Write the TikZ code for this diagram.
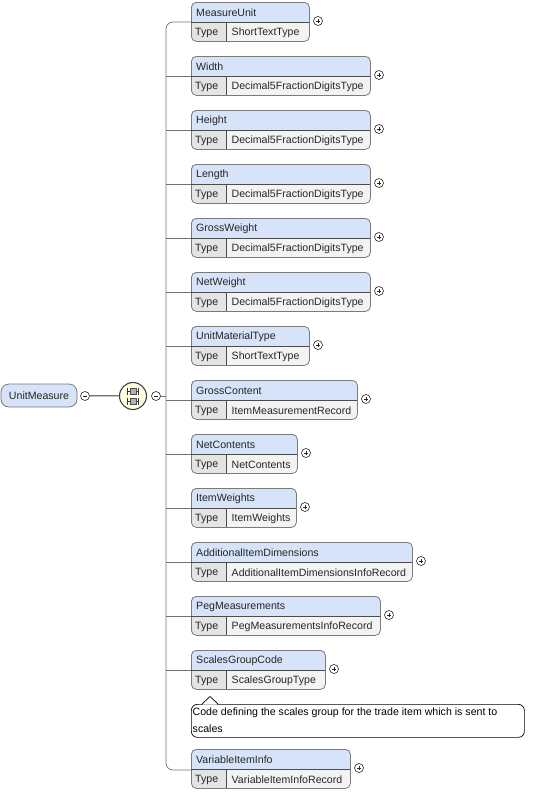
\documentclass[tikz,border=0pt]{standalone}
\usepackage{fontspec}
\setmainfont{Liberation Sans}
\definecolor{namebg}{HTML}{D6E3F8}
\definecolor{typecell}{HTML}{E4E4E4}
\definecolor{valcell}{HTML}{F3F3F3}
\definecolor{border}{HTML}{7A7A7A}
\definecolor{iconbg}{HTML}{FFFFE1}
\tikzset{
  txt/.style={font=\fontsize{10.6}{12}\selectfont, inner sep=0pt, anchor=west, text=black!85},
  boxline/.style={draw=border, line width=0.8pt},
  conn/.style={draw=black!55, line width=0.7pt},
  pm/.style={circle, draw=black!85, line width=0.6pt, fill=white, minimum size=9pt, inner sep=0pt},
}
\newcommand{\elembox}[5]{% id, top, right, name, type
  \begin{scope}
    \clip[rounded corners=5pt] (191,#2) rectangle (#3,#2+39);
    \fill[valcell] (191,#2) rectangle (#3,#2+39);
    \fill[namebg] (191,#2) rectangle (#3,#2+20);
    \fill[typecell] (191,#2+20) rectangle (226,#2+39);
  \end{scope}
  \node[inner sep=0pt, minimum width=#3 pt-191pt, minimum height=39pt, anchor=north west, rounded corners=5pt, boxline] (#1) at (191,#2) {};
  \draw[black!70, line width=0.6pt] (191,#2+20) -- (#3,#2+20);
  \draw[black!70, line width=0.6pt] (226,#2+20) -- (226,#2+39);
  \node[txt] (#1-n) at (196,#2+11) {#4};
  \node[txt] (#1-t) at (195,#2+30.5) {Type};
  \node[txt] (#1-v) at (231.5,#2+30.5) {#5};
  \node[pm] (#1-p) at (#3+9,#2+19) {};
  \draw[black!85, line width=0.6pt] ([xshift=-2.2pt]#1-p.center) -- ([xshift=2.2pt]#1-p.center);
  \draw[black!85, line width=0.6pt] ([yshift=-2.2pt]#1-p.center) -- ([yshift=2.2pt]#1-p.center);
}
\begin{document}
\begin{tikzpicture}[x=1pt, y=-1pt]
\useasboundingbox (0,0) rectangle (547,795);
% root
\node[draw=border, line width=0.8pt, fill=namebg, rounded corners=8pt, minimum width=76pt, minimum height=23pt, inner sep=0pt, font=\fontsize{10.6}{12}\selectfont, text=black!85] (root) at (39,395.5) {UnitMeasure};
\node[pm] (rm) at (85,396) {};
\draw[black!85, line width=0.6pt] ([xshift=-2.2pt]rm.center) -- ([xshift=2.2pt]rm.center);
% sequence icon
\node[circle, draw=black!75, line width=1.1pt, fill=iconbg, minimum size=27pt, inner sep=0pt] (seq) at (133,396) {};
\draw[black!55, line width=2.6pt] (rm.east) -- (seq.west);
\draw[gray!45, line width=0.9pt] (rm.east) -- (seq.west);
\begin{scope}[black!80, line width=0.7pt]
  \draw (127.5,387.5) -- (127.5,394.5) (138.5,387.5) -- (138.5,394.5);
  \draw (127.5,397.5) -- (127.5,404.5) (138.5,397.5) -- (138.5,404.5);
  \draw (127.5,391) -- (138.5,391) (127.5,401) -- (138.5,401);
  \filldraw[fill=gray!60, draw=black!70, line width=0.5pt] (130,388) rectangle (136,394);
  \filldraw[fill=gray!60, draw=black!70, line width=0.5pt] (130,398) rectangle (136,404);
\end{scope}
\node[pm] (sm) at (156,396) {};
\draw[black!85, line width=0.6pt] ([xshift=-2.2pt]sm.center) -- ([xshift=2.2pt]sm.center);
% elements
\elembox{e1}{2}{309}{MeasureUnit}{ShortTextType}
\elembox{e2}{56}{370}{Width}{Decimal5FractionDigitsType}
\elembox{e3}{110}{370}{Height}{Decimal5FractionDigitsType}
\elembox{e4}{164}{370}{Length}{Decimal5FractionDigitsType}
\elembox{e5}{218}{370}{GrossWeight}{Decimal5FractionDigitsType}
\elembox{e6}{272}{370}{NetWeight}{Decimal5FractionDigitsType}
\elembox{e7}{326}{309}{UnitMaterialType}{ShortTextType}
\elembox{e8}{380}{357}{GrossContent}{ItemMeasurementRecord}
\elembox{e9}{434}{297}{NetContents}{NetContents}
\elembox{e10}{488}{296}{ItemWeights}{ItemWeights}
\elembox{e11}{542}{412}{AdditionalItemDimensions}{AdditionalItemDimensionsInfoRecord}
\elembox{e12}{596}{380}{PegMeasurements}{PegMeasurementsInfoRecord}
\elembox{e13}{650}{325}{ScalesGroupCode}{ScalesGroupType}
\elembox{e14}{749}{350}{VariableItemInfo}{VariableItemInfoRecord}
% trunk
\coordinate (tr) at (166,396);
\draw[conn] (sm.east) -- (tr);
\draw[conn, rounded corners=7pt] (e1.west |- 0,22) -- (166,22) -- (166,770) -- (e14.west |- 0,770);
\foreach \i/\t in {e2/56,e3/110,e4/164,e5/218,e6/272,e7/326,e8/380,e9/434,e10/488,e11/542,e12/596,e13/650}{
  \draw[conn] (166,\t+20) -- (\i.west |- 0,\t+20);
}
% comment
\node[draw=black, line width=0.7pt, fill=white, rounded corners=6pt, minimum width=333pt, minimum height=33pt, anchor=north west, inner sep=0pt] (cmt) at (191,704) {};
\fill[white] (202.5,704.5) -- (210,697) -- (217.5,704.5) -- cycle;
\draw[black, line width=0.7pt] (202,704) -- (210,696.5) -- (218,704);
\node[txt, text=black] (ct1) at (192.5,712.5) {Code defining the scales group for the trade item which is sent to};
\node[txt, text=black] (ct2) at (192.5,728.5) {scales};
\end{tikzpicture}
\end{document}
